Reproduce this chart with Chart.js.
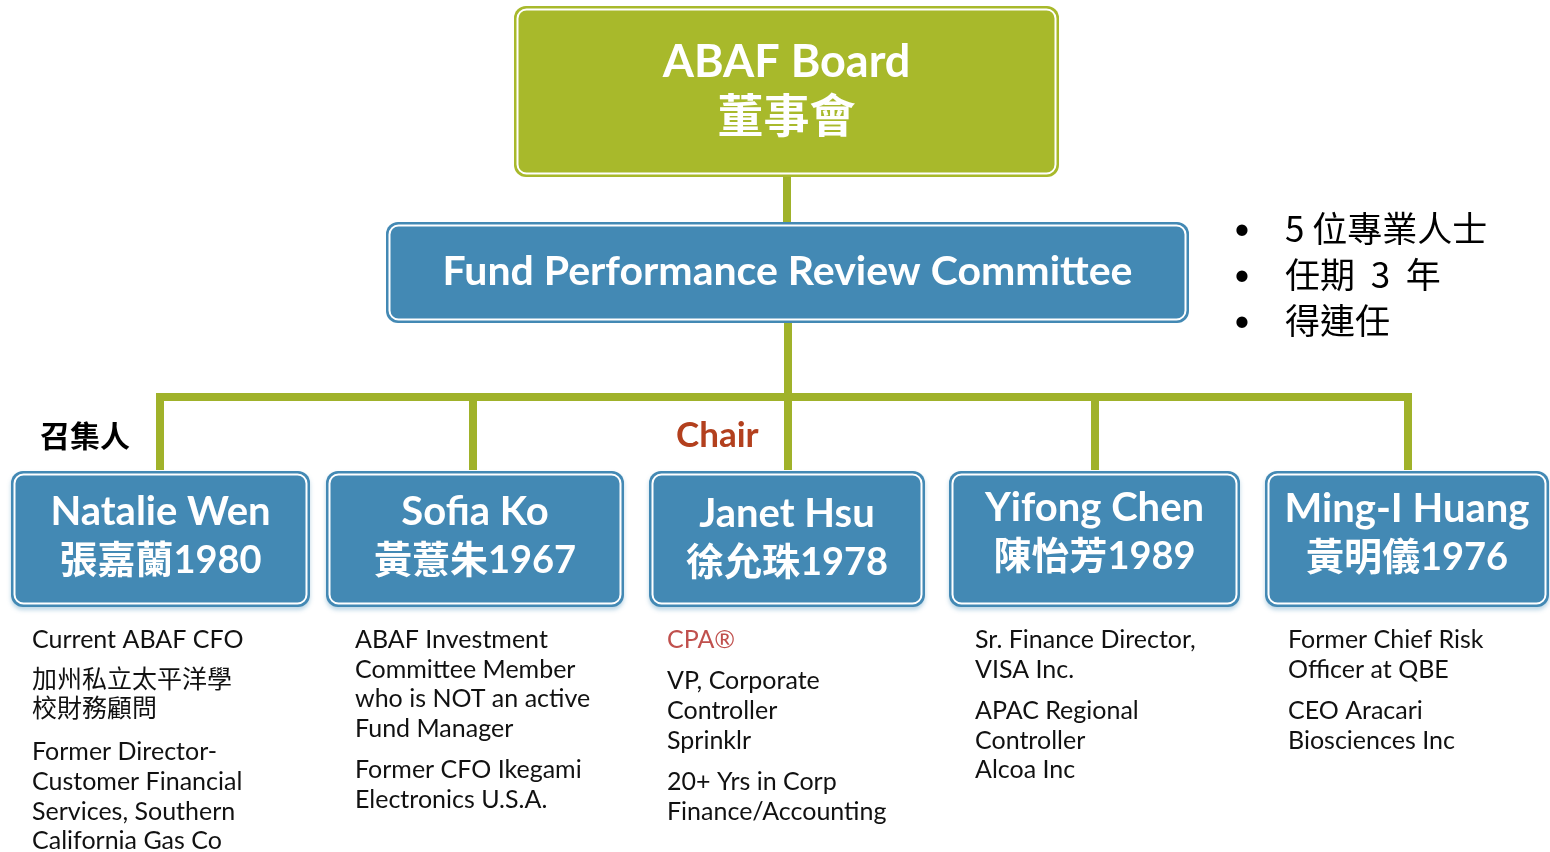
<!DOCTYPE html>
<html><head><meta charset="utf-8">
<script src="https://cdn.jsdelivr.net/npm/chart.js@4.4.1/dist/chart.umd.min.js"></script>
<style>html,body{margin:0;padding:0;background:#fff;overflow:hidden}#wrap{width:1550px;height:852px}</style>
</head><body><div id="wrap"><canvas id="c" width="1550" height="852"></canvas></div>
<script>
// ---------- data ----------
const boardTitle = 'ABAF Board';
const boardTitleZh = '董事會';
const committeeTitle = 'Fund Performance Review Committee';
const committeeFacts = ['5 位專業人士', '任期  3  年', '得連任'];
const memberNames = ['Natalie Wen', 'Sofia Ko', 'Janet Hsu', 'Yifong Chen', 'Ming-I Huang'];
const memberNamesZh = ['張嘉蘭', '黃薏朱', '徐允珠', '陳怡芳', '黃明儀'];
const memberBirthYears = ['1980', '1967', '1978', '1989', '1976'];
const memberRoles = ['召集人', '', 'Chair', '', ''];
const memberCredentials = ['', '', 'CPA®', '', ''];
const memberBackground = [
  [['Current ABAF CFO'], ['加州私立太平洋學', '校財務顧問'], ['Former Director-', 'Customer Financial', 'Services, Southern', 'California Gas Co']],
  [['ABAF Investment', 'Committee Member', 'who is NOT an active', 'Fund Manager'], ['Former CFO Ikegami', 'Electronics U.S.A.']],
  [['VP, Corporate', 'Controller', 'Sprinklr'], ['20+ Yrs in Corp', 'Finance/Accounting']],
  [['Sr. Finance Director,', 'VISA Inc.'], ['APAC Regional', 'Controller', 'Alcoa Inc']],
  [['Former Chief Risk', 'Officer at QBE'], ['CEO Aracari', 'Biosciences Inc']]
];

// ---------- layout (chart units) ----------
const boardBox = {x0: 514, x1: 1059, y0: 6, y1: 177};
const committeeBox = {x0: 386, x1: 1189, y0: 222, y1: 323};
const memberBoxX0 = [11, 326, 649, 949, 1265];
const memberBoxX1 = [310, 624, 925, 1240, 1549];
const memberBoxY0 = 471, memberBoxY1 = 607;
const memberTextShift = [0, 0, 2, -4, -3];
const dropX = [160, 473, 788, 1095, 1408];
const busY = 397, trunkX = 788, dropEndY = 466;
const noteX = [32, 355, 667, 975, 1288];
const noteTop = 640, lineH = 29.7, paraGap = 11.5;
const roleX = [40, 0, 676, 0, 0], roleY = 436;
const factsX = 1242, factsTextX = 1285, factsY = [229, 275, 321];

const OLIVE = '#a0b22a', GREEN = '#a8b92b', BLUE = '#4389b4';
const SANS = "Lato, 'Noto Sans CJK TC', sans-serif";
const CJK = "'Noto Sans CJK TC', sans-serif";

// connector segments built from layout
const segments = [
  [[trunkX - 1, boardBox.y1], [trunkX - 1, committeeBox.y0]],
  [[trunkX, committeeBox.y1], [trunkX, dropEndY]],
  [[dropX[0], busY], [dropX[dropX.length - 1], busY]]
];
dropX.forEach(x => segments.push([[x, busY], [x, dropEndY]]));

const datasets = [];
segments.forEach(s => {
  const vertical = s[0][0] === s[1][0];
  datasets.push({data: s.map(p => ({x: p[0], y: p[1]})), showLine: true, borderColor: OLIVE,
    borderWidth: 8, pointRadius: 0, borderCapStyle: 'square'});
  datasets.push({data: s.map(p => ({x: p[0] - (vertical ? 2 : 0), y: p[1] - (vertical ? 0 : 2)})),
    showLine: true, borderColor: 'rgba(255,255,255,0.85)', borderWidth: 1.2, pointRadius: 0});
});

function rrect(ctx, x, y, w, h, r) {
  ctx.beginPath();
  ctx.moveTo(x + r, y);
  ctx.arcTo(x + w, y, x + w, y + h, r);
  ctx.arcTo(x + w, y + h, x, y + h, r);
  ctx.arcTo(x, y + h, x, y, r);
  ctx.arcTo(x, y, x + w, y, r);
  ctx.closePath();
}

function drawBox(ctx, sx, sy, b, fill, shadow) {
  const x0 = sx.getPixelForValue(b.x0), x1 = sx.getPixelForValue(b.x1);
  const y0 = sy.getPixelForValue(b.y0), y1 = sy.getPixelForValue(b.y1);
  ctx.save();
  if (shadow) {
    ctx.shadowColor = 'rgba(67,137,180,0.35)';
    ctx.shadowBlur = 4; ctx.shadowOffsetY = 3;
  }
  rrect(ctx, x0, y0, x1 - x0, y1 - y0, 12);
  ctx.fillStyle = fill; ctx.fill();
  ctx.restore();
  ctx.save();
  rrect(ctx, x0 + 3.5, y0 + 3.5, x1 - x0 - 7, y1 - y0 - 7, 9);
  ctx.strokeStyle = '#ffffff'; ctx.lineWidth = 2; ctx.stroke();
  ctx.restore();
}

function text(ctx, s, x, y, font, color, align) {
  ctx.font = font; ctx.fillStyle = color; ctx.textAlign = align || 'center';
  ctx.textBaseline = 'middle'; ctx.fillText(s, x, y);
}
const isZh = s => /[\u4e00-\u9fff]/.test(s);

const orgPlugin = {
  id: 'org',
  afterDatasetsDraw(chart) {
    const ctx = chart.ctx, sx = chart.scales.x, sy = chart.scales.y;
    const X = v => sx.getPixelForValue(v), Y = v => sy.getPixelForValue(v);
    // board
    drawBox(ctx, sx, sy, boardBox, GREEN, false);
    const bcx = X((boardBox.x0 + boardBox.x1) / 2);
    text(ctx, boardTitle, bcx, Y(62), 'bold 45px ' + SANS, '#fff');
    text(ctx, boardTitleZh, bcx, Y(115), 'bold 46px ' + CJK, '#fff');
    // committee
    drawBox(ctx, sx, sy, committeeBox, BLUE, false);
    text(ctx, committeeTitle, X((committeeBox.x0 + committeeBox.x1) / 2), Y(272), 'bold 41px ' + SANS, '#fff');
    // facts
    committeeFacts.forEach((f, i) => {
      text(ctx, '•', X(factsX), Y(factsY[i]), '30px ' + SANS, '#000', 'center');
      text(ctx, f, X(factsTextX), Y(factsY[i]), '35px ' + CJK, '#000', 'left');
    });
    // members
    memberNames.forEach((n, i) => {
      const b = {x0: memberBoxX0[i], x1: memberBoxX1[i], y0: memberBoxY0, y1: memberBoxY1};
      drawBox(ctx, sx, sy, b, BLUE, true);
      const cx = X((b.x0 + b.x1) / 2);
      text(ctx, n, cx, Y(512 + memberTextShift[i]), 'bold 40px ' + SANS, '#fff');
      text(ctx, memberNamesZh[i] + memberBirthYears[i], cx, Y(561 + memberTextShift[i]), 'bold 38px ' + SANS, '#fff');
      // role labels
      if (memberRoles[i]) {
        const zh = isZh(memberRoles[i]);
        text(ctx, memberRoles[i], X(roleX[i]), Y(roleY),
          zh ? 'bold 30px ' + CJK : 'bold 35px ' + SANS, zh ? '#000' : '#b3401e', 'left');
      }
      // background notes
      let y = noteTop;
      if (memberCredentials[i]) {
        text(ctx, memberCredentials[i], X(noteX[i]), Y(y), '25px ' + SANS, '#c0504d', 'left');
        y += lineH + paraGap;
      }
      memberBackground[i].forEach(para => {
        para.forEach(line => {
          const zh = isZh(line);
          text(ctx, line, X(noteX[i]), Y(y + (zh ? -3 : 0)), zh ? '25px ' + CJK : '25px ' + SANS, '#111', 'left');
          y += lineH;
        });
        y += paraGap;
      });
    });
  }
};

new Chart(document.getElementById('c'), {
  type: 'scatter',
  data: {datasets},
  options: {
    responsive: false, animation: false, devicePixelRatio: 1,
    layout: {padding: 0},
    plugins: {legend: {display: false}, tooltip: {enabled: false}, title: {display: false}},
    scales: {
      x: {type: 'linear', min: 0, max: 1550, display: false},
      y: {type: 'linear', min: 0, max: 852, reverse: true, display: false}
    }
  },
  plugins: [orgPlugin]
});
</script></body></html>
